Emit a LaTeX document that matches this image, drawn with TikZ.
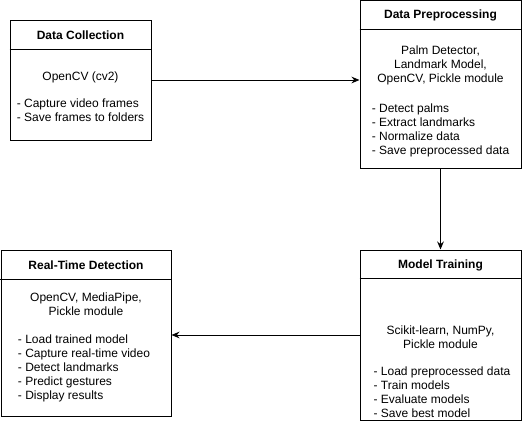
\documentclass[tikz,border=0pt]{standalone}
\usepackage{fontspec}
\setmainfont{Liberation Sans}
\usetikzlibrary{arrows.meta,fit}
\begin{document}
\begin{tikzpicture}[x=0.75pt,y=-0.75pt,
  box/.style={draw,line width=0.75pt,inner sep=0pt,fit={#1}},
  hline/.style={line width=0.75pt},
  title/.style={inner sep=0pt,font=\fontsize{9pt}{10.5pt}\selectfont\bfseries},
  lib/.style={inner sep=0pt,align=center,font=\fontsize{9pt}{10.5pt}\selectfont},
  bul/.style={inner sep=0pt,align=left,font=\fontsize{9pt}{10.5pt}\selectfont},
  conn/.style={line width=0.75pt,-{Stealth[length=6pt,width=5pt]}}]
\useasboundingbox (0,0) rectangle (526,421);
% boxes
\node[box={(10,20) (151,140)}] (dc) {};
\node[box={(360,1) (521,168)}] (dp) {};
\node[box={(360,250) (521,420)}] (mt) {};
\node[box={(1,250) (171,416)}] (rt) {};
% header lines
\draw[hline] (dc.north west) ++(0,30) -- ++(141,0);
\draw[hline] (dp.north west) ++(0,29) -- ++(161,0);
\draw[hline] (mt.north west) ++(0,29) -- ++(161,0);
\draw[hline] (rt.north west) ++(0,30) -- ++(170,0);
% Data Collection
\node[title] (dct) at (80.5,35) {Data Collection};
\node[lib] (dcl) at (80.5,77) {OpenCV (cv2)};
\node[bul] (dcb) at (80.5,110.5) {- Capture video frames\\- Save frames to folders};
% Data Preprocessing
\node[title] (dpt) at (440.5,15) {Data Preprocessing};
\node[lib] (dpl) at (440.5,65.5) {Palm Detector,\\Landmark Model,\\OpenCV, Pickle module};
\node[bul] (dpb) at (440.5,130) {- Detect palms\\- Extract landmarks\\- Normalize data\\- Save preprocessed data};
% Model Training
\node[title] (mtt) at (440.5,265) {Model Training};
\node[lib] (mtl) at (440.5,337) {Scikit-learn, NumPy,\\Pickle module};
\node[bul] (mtb) at (442,392.5) {- Load preprocessed data\\- Train models\\- Evaluate models\\- Save best model};
% Real-Time Detection
\node[title] (rtt) at (86,265) {Real-Time Detection};
\node[lib] (rtl) at (86,304.5) {OpenCV, MediaPipe,\\Pickle module};
\node[bul] (rtb) at (84,368.5) {- Load trained model\\- Capture real-time video\\- Detect landmarks\\- Predict gestures\\- Display results};
% connectors
\draw[conn] (dc.east) -- (dc.east -| dp.west);
\draw[conn] (dp.south) -- (mt.north);
\draw[conn] (mt.west) -- (mt.west -| rt.east);
\end{tikzpicture}
\end{document}
